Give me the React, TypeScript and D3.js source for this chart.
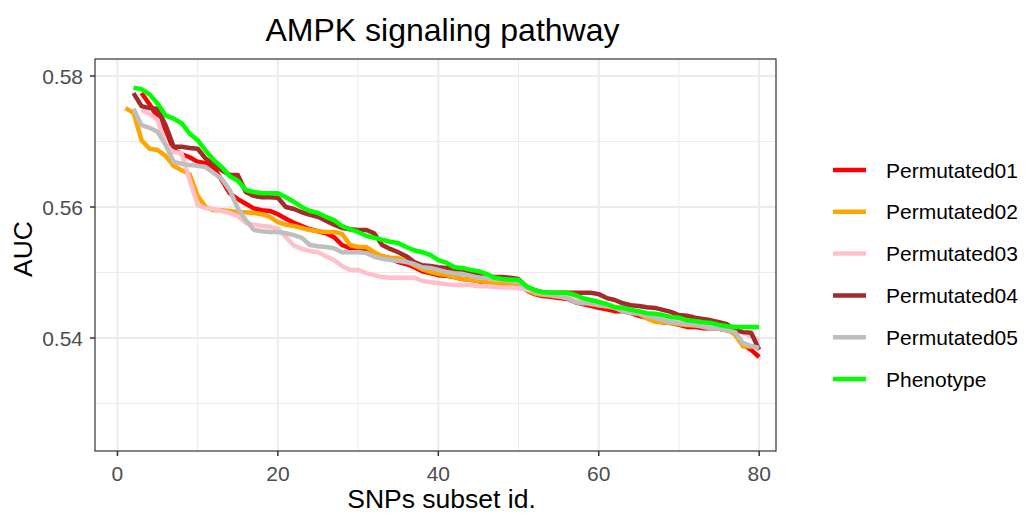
import React from 'react'
import * as d3 from 'd3'

// AUC values, one array per series
const permutated01Start = 3
const permutated01 = [
  0.5774, 0.5757, 0.5737, 0.5718, 0.5687, 0.5681, 0.5676, 0.5669, 0.5667, 0.566,
  0.5641, 0.5621, 0.5612, 0.5605, 0.5598, 0.5595, 0.5594, 0.5589, 0.5582, 0.5576,
  0.5571, 0.5566, 0.5563, 0.556, 0.5554, 0.5542, 0.5537, 0.5537, 0.5536, 0.5527,
  0.5525, 0.5522, 0.5516, 0.5513, 0.5508, 0.5502, 0.5499, 0.5496, 0.5495, 0.5493,
  0.549, 0.5489, 0.5487, 0.5484, 0.5482, 0.5482, 0.5482, 0.5481, 0.5473, 0.5467,
  0.5464, 0.5463, 0.5461, 0.546, 0.5455, 0.5452, 0.5449, 0.5446, 0.5444, 0.5441,
  0.5441, 0.5438, 0.5434, 0.5431, 0.5427, 0.5424, 0.5423, 0.542, 0.5417, 0.5417,
  0.5415, 0.5415, 0.5414, 0.5412, 0.5408, 0.539, 0.5382, 0.5371,
]

const permutated02Start = 1
const permutated02 = [
  0.5751, 0.5744, 0.5702, 0.5689, 0.5687, 0.5678, 0.5663, 0.5656, 0.565, 0.5617,
  0.56, 0.5595, 0.5595, 0.5594, 0.5592, 0.5592, 0.5591, 0.5589, 0.5585, 0.5577,
  0.5573, 0.5571, 0.5568, 0.5565, 0.5563, 0.5562, 0.5562, 0.5559, 0.5542, 0.5539,
  0.5539, 0.5531, 0.5525, 0.5522, 0.5522, 0.5518, 0.5511, 0.5505, 0.5501, 0.5498,
  0.5496, 0.5493, 0.549, 0.5489, 0.5487, 0.5485, 0.5483, 0.5483, 0.5483, 0.5482,
  0.5474, 0.5468, 0.5466, 0.5465, 0.5463, 0.5462, 0.5458, 0.5455, 0.5452, 0.545,
  0.5448, 0.5446, 0.5445, 0.5441, 0.5437, 0.543, 0.5425, 0.5424, 0.5423, 0.5421,
  0.542, 0.5419, 0.5418, 0.5417, 0.5416, 0.5414, 0.5405, 0.5387, 0.5387, 0.5387,
]

const permutated03Start = 3
const permutated03 = [
  0.5748, 0.5742, 0.5733, 0.5695, 0.5684, 0.5682, 0.5641, 0.5603, 0.5598, 0.5597,
  0.5594, 0.5591, 0.5586, 0.5576, 0.5573, 0.5571, 0.557, 0.5567, 0.5554, 0.5541,
  0.5536, 0.5533, 0.5531, 0.5525, 0.5519, 0.551, 0.5504, 0.5504, 0.5499, 0.5496,
  0.5493, 0.5492, 0.5492, 0.5492, 0.5492, 0.5487, 0.5485, 0.5484, 0.5482, 0.5481,
  0.5481, 0.5481, 0.5479, 0.5479, 0.5478, 0.5477, 0.5477, 0.5476, 0.5474, 0.5472,
  0.5469, 0.5466, 0.5464, 0.5462, 0.5459, 0.5456, 0.5454, 0.5452, 0.545, 0.5448,
  0.5446, 0.5443, 0.5439, 0.5434, 0.5431, 0.5429, 0.5427, 0.5425, 0.5423, 0.5421,
  0.542, 0.5419, 0.5418, 0.5416, 0.5414, 0.5408, 0.5403, 0.5397,
]

const permutated04Start = 2
const permutated04 = [
  0.5774, 0.5754, 0.5751, 0.575, 0.5725, 0.5692, 0.5692, 0.569, 0.5689, 0.5674,
  0.5665, 0.5656, 0.5649, 0.5649, 0.5623, 0.5617, 0.5615, 0.5615, 0.5614, 0.56,
  0.5597, 0.5592, 0.5588, 0.5585, 0.5579, 0.5573, 0.5568, 0.5566, 0.5565, 0.5565,
  0.556, 0.5542, 0.5536, 0.5531, 0.5525, 0.5516, 0.5511, 0.551, 0.5508, 0.5507,
  0.5505, 0.5502, 0.5501, 0.5499, 0.5496, 0.5493, 0.5493, 0.5492, 0.549, 0.5478,
  0.5473, 0.547, 0.5469, 0.5469, 0.5469, 0.5469, 0.5469, 0.5469, 0.5467, 0.5461,
  0.5458, 0.5453, 0.545, 0.5449, 0.5447, 0.5446, 0.5443, 0.544, 0.5435, 0.5434,
  0.5431, 0.5429, 0.5427, 0.5424, 0.5421, 0.5412, 0.5409, 0.5408, 0.5382,
]

const permutated05Start = 2
const permutated05 = [
  0.575, 0.5725, 0.5721, 0.5715, 0.5695, 0.5669, 0.5666, 0.5664, 0.5663, 0.5661,
  0.5652, 0.5643, 0.5626, 0.5598, 0.558, 0.5565, 0.5563, 0.5562, 0.5562, 0.556,
  0.5557, 0.5553, 0.5542, 0.554, 0.5539, 0.5537, 0.5531, 0.5531, 0.5531, 0.553,
  0.5524, 0.5521, 0.5519, 0.5518, 0.5516, 0.5513, 0.5508, 0.5507, 0.5504, 0.5501,
  0.5499, 0.5498, 0.5495, 0.5492, 0.5492, 0.549, 0.5489, 0.5487, 0.5485, 0.5478,
  0.547, 0.5467, 0.5466, 0.5464, 0.5461, 0.5455, 0.5453, 0.5453, 0.545, 0.5449,
  0.5446, 0.5441, 0.5438, 0.5437, 0.5434, 0.5431, 0.5427, 0.5424, 0.5423, 0.5421,
  0.542, 0.5417, 0.5415, 0.5414, 0.5412, 0.5409, 0.5392, 0.5388, 0.5385,
]

const phenotypeStart = 2
const phenotype = [
  0.5782, 0.578, 0.5772, 0.5758, 0.574, 0.5735, 0.5728, 0.5712, 0.5702, 0.5686,
  0.5672, 0.5661, 0.5647, 0.564, 0.5626, 0.5623, 0.5621, 0.5621, 0.5621, 0.5615,
  0.5608, 0.56, 0.5594, 0.5591, 0.5585, 0.558, 0.5571, 0.5566, 0.5562, 0.5556,
  0.5553, 0.555, 0.5547, 0.5545, 0.5539, 0.5534, 0.5531, 0.5527, 0.5519, 0.5515,
  0.5508, 0.5507, 0.5504, 0.5502, 0.5498, 0.5492, 0.549, 0.5489, 0.5489, 0.5479,
  0.5473, 0.547, 0.5469, 0.5469, 0.5469, 0.5466, 0.5461, 0.5458, 0.5455, 0.5452,
  0.5447, 0.5446, 0.5443, 0.5441, 0.5438, 0.5437, 0.5435, 0.5432, 0.5431, 0.5427,
  0.5426, 0.5424, 0.5423, 0.542, 0.5418, 0.5417, 0.5417, 0.5417, 0.5417,
]

const seriesNames = ['Permutated01', 'Permutated02', 'Permutated03', 'Permutated04', 'Permutated05', 'Phenotype']
const seriesColors = ['#FF0000', '#FFA500', '#FFC0CB', '#A52A2A', '#BEBEBE', '#00FF00']
const xTicks = [0, 20, 40, 60, 80]
const xMinor = [10, 30, 50, 70]
const yTicks = [0.54, 0.56, 0.58]
const yMinor = [0.53, 0.55, 0.57]

const series = [
  { name: seriesNames[0], start: permutated01Start, values: permutated01 },
  { name: seriesNames[1], start: permutated02Start, values: permutated02 },
  { name: seriesNames[2], start: permutated03Start, values: permutated03 },
  { name: seriesNames[3], start: permutated04Start, values: permutated04 },
  { name: seriesNames[4], start: permutated05Start, values: permutated05 },
  { name: seriesNames[5], start: phenotypeStart, values: phenotype },
]

const W = 1029
const H = 514
const panel = { left: 95, right: 776, top: 59, bottom: 451 }
const font = '"Liberation Sans", Arial, sans-serif'

export default function App() {
  const x = d3.scaleLinear().domain([-2.8, 82.1]).range([panel.left, panel.right])
  const y = d3.scaleLinear().domain([0.52275, 0.5826]).range([panel.bottom, panel.top])
  const color = d3.scaleOrdinal<string, string>().domain(seriesNames).range(seriesColors)

  const pathFor = (s: { start: number; values: number[] }) =>
    d3
      .line<number>()
      .x((_, i) => x(s.start + i))
      .y((d) => y(d))(s.values) ?? ''

  const midX = (panel.left + panel.right) / 2
  const midY = (panel.top + panel.bottom) / 2

  return (
    <svg
      width={W}
      height={H}
      style={{ position: 'absolute', left: 0, top: 0, background: '#fff', fontFamily: font }}
    >
      <rect x={0} y={0} width={W} height={H} fill="#fff" />
      {/* grid */}
      {yMinor.map((v) => (
        <line key={'ym' + v} x1={panel.left} x2={panel.right} y1={y(v)} y2={y(v)} stroke="#EBEBEB" strokeWidth={1} />
      ))}
      {xMinor.map((v) => (
        <line key={'xm' + v} x1={x(v)} x2={x(v)} y1={panel.top} y2={panel.bottom} stroke="#EBEBEB" strokeWidth={1} />
      ))}
      {yTicks.map((v) => (
        <line key={'yg' + v} x1={panel.left} x2={panel.right} y1={y(v)} y2={y(v)} stroke="#EBEBEB" strokeWidth={2} />
      ))}
      {xTicks.map((v) => (
        <line key={'xg' + v} x1={x(v)} x2={x(v)} y1={panel.top} y2={panel.bottom} stroke="#EBEBEB" strokeWidth={2} />
      ))}

      {/* lines */}
      <g fill="none" strokeWidth={4.5} strokeLinejoin="round" strokeLinecap="butt">
        {series.map((s) => (
          <path key={s.name} d={pathFor(s)} stroke={color(s.name)} />
        ))}
      </g>

      {/* panel border */}
      <rect
        x={panel.left}
        y={panel.top}
        width={panel.right - panel.left}
        height={panel.bottom - panel.top}
        fill="none"
        stroke="#333333"
        strokeWidth={1.2}
      />

      {/* axes */}
      {xTicks.map((v) => (
        <g key={'xt' + v}>
          <line x1={x(v)} x2={x(v)} y1={panel.bottom} y2={panel.bottom + 5} stroke="#333333" strokeWidth={1.5} />
          <text x={x(v)} y={panel.bottom + 30} textAnchor="middle" fontSize={21} fill="#4D4D4D">
            {v}
          </text>
        </g>
      ))}
      {yTicks.map((v) => (
        <g key={'yt' + v}>
          <line x1={panel.left - 5} x2={panel.left} y1={y(v)} y2={y(v)} stroke="#333333" strokeWidth={1.5} />
          <text x={panel.left - 12} y={y(v)} dy="0.36em" textAnchor="end" fontSize={21} fill="#4D4D4D">
            {d3.format('.2f')(v)}
          </text>
        </g>
      ))}

      <text x={midX + 6} y={508} textAnchor="middle" fontSize={26.5} fill="#000">
        SNPs subset id.
      </text>
      <text transform={`translate(32,${midY - 6}) rotate(-90)`} textAnchor="middle" fontSize={26.5} fill="#000">
        AUC
      </text>
      <text x={midX + 7} y={41} textAnchor="middle" fontSize={32} fill="#000">
        AMPK signaling pathway
      </text>

      {/* legend */}
      {seriesNames.map((name, i) => {
        const ly = 170 + i * 41.8
        return (
          <g key={'lg' + name}>
            <line x1={833} x2={866} y1={ly} y2={ly} stroke={color(name)} strokeWidth={4.5} />
            <text x={886} y={ly} dy="0.36em" fontSize={21} fill="#000">
              {name}
            </text>
          </g>
        )
      })}
    </svg>
  )
}
